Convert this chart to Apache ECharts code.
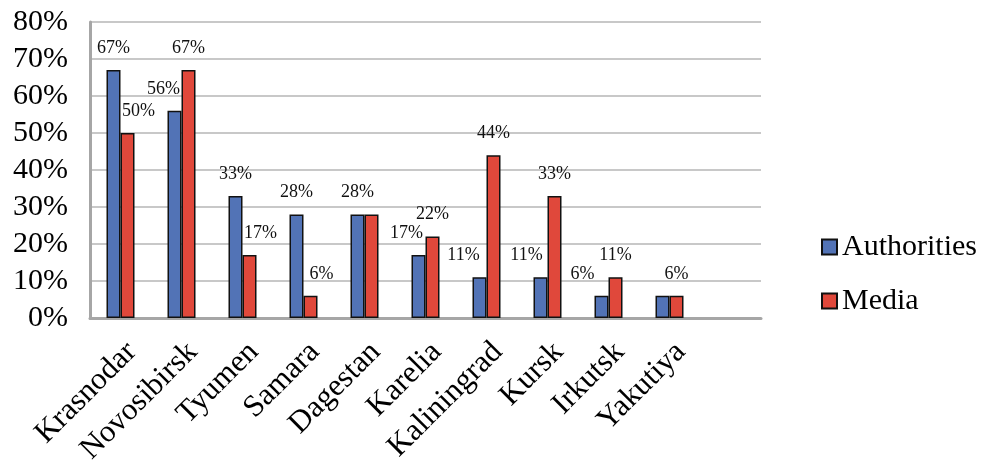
<!DOCTYPE html>
<html>
<head>
    <meta charset="utf-8">
    <title>Authorities vs Media</title>
    <script src="https://cdn.jsdelivr.net/npm/echarts@6/dist/echarts.min.js"></script>
</head>
<body style="margin:0">
<div id="main" style="width: 984px;height:464px;"></div>
<script type="text/javascript">
    // regions (the last slot is empty in the original chart)
    var regions = ['Krasnodar', 'Novosibirsk', 'Tyumen', 'Samara', 'Dagestan', 'Karelia',
        'Kaliningrad', 'Kursk', 'Irkutsk', 'Yakutiya', ''];
    var authorities = [67, 56, 33, 28, 28, 17, 11, 11, 6, 6];
    var media = [50, 67, 17, 6, 28, 22, 44, 33, 11, 6];
    var yTicks = [0, 10, 20, 30, 40, 50, 60, 70, 80];

    // small label nudges so the texts don't sit on top of each other
    var authShift = [0, -11, 0, 0, 0, -12, -16, -14, -19, 0];
    var mediaShift = [11, 0, 11, 11, 0, 0, 0, 0, 0, 0];
    var authHide = [9];
    var mediaHide = [4];

    var serif = '"Liberation Serif", "DejaVu Serif", serif';

    function build(values, shift, hide) {
        return values.map(function (v, i) {
            return {
                value: v,
                label: {
                    show: hide.indexOf(i) < 0,
                    offset: [shift[i], 0]
                }
            };
        });
    }

    var myChart = echarts.init(document.getElementById('main'));
    var option = {
        animation: false,
        grid: {
            left: 90,
            top: 22,
            right: 223,
            bottom: 146,
            outerBoundsMode: 'none'
        },
        legend: {
            orient: 'vertical',
            left: 816,
            top: 227,
            itemWidth: 15,
            itemHeight: 15,
            itemGap: 24,
            icon: 'rect',
            textStyle: {
                fontFamily: serif,
                fontSize: 30,
                color: '#000'
            },
            data: ['Authorities', 'Media']
        },
        xAxis: {
            type: 'category',
            data: regions,
            axisTick: {show: false},
            axisLine: {lineStyle: {color: '#a6a6a6', width: 3}},
            axisLabel: {
                rotate: 45,
                interval: 0,
                margin: 18,
                verticalAlign: 'top',
                lineHeight: 32,
                fontFamily: serif,
                fontSize: 31,
                color: '#000'
            }
        },
        yAxis: {
            type: 'value',
            min: yTicks[0],
            max: yTicks[yTicks.length - 1],
            interval: 10,
            axisLine: {show: true, lineStyle: {color: '#a6a6a6', width: 3}},
            axisTick: {show: false},
            splitLine: {lineStyle: {color: '#c8c8c8', width: 2}},
            axisLabel: {
                formatter: '{value}%',
                margin: 22,
                fontFamily: serif,
                fontSize: 30,
                color: '#000'
            }
        },
        series: [{
            name: 'Authorities',
            type: 'bar',
            barWidth: 14,
            barGap: '0%',
            itemStyle: {color: '#5273b6', borderColor: '#111', borderWidth: 1.5},
            label: {
                show: true,
                position: 'top',
                distance: 13,
                formatter: '{c}%',
                fontFamily: serif,
                fontSize: 18,
                color: '#111'
            },
            data: build(authorities, authShift, authHide)
        }, {
            name: 'Media',
            type: 'bar',
            barWidth: 14,
            itemStyle: {color: '#e0483b', borderColor: '#111', borderWidth: 1.5},
            label: {
                show: true,
                position: 'top',
                distance: 13,
                formatter: '{c}%',
                fontFamily: serif,
                fontSize: 18,
                color: '#111'
            },
            data: build(media, mediaShift, mediaHide)
        }]
    };
    myChart.setOption(option);
</script>
</body>
</html>
